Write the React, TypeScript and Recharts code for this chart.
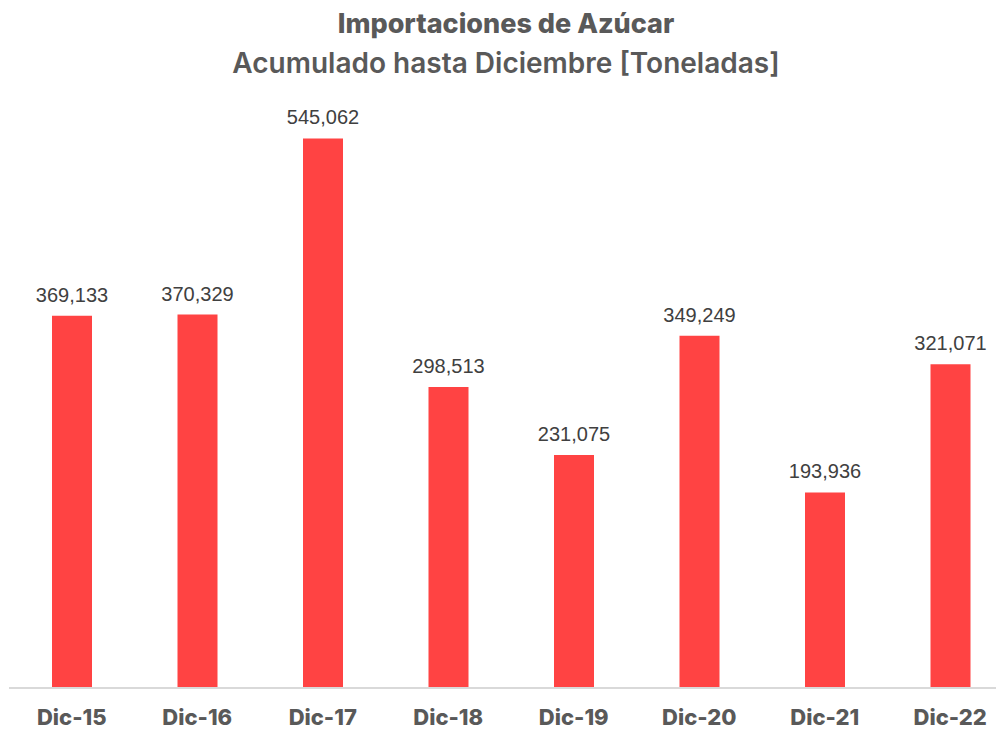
import { BarChart, Bar, XAxis, YAxis, LabelList } from 'recharts';

const categories = ['Dic-15', 'Dic-16', 'Dic-17', 'Dic-18', 'Dic-19', 'Dic-20', 'Dic-21', 'Dic-22'];
const toneladas = [369133, 370329, 545062, 298513, 231075, 349249, 193936, 321071];
const yDomain = [0, 600000];

const chartData = categories.map((name, i) => ({ name, value: toneladas[i] }));

const fmt = (v: number) => v.toLocaleString('en-US');

export default function App() {
  return (
    <div style={{ position: 'relative', width: 996, height: 723, overflow: 'hidden' }}>
      <div
        style={{
          position: 'absolute',
          top: 0,
          left: 0,
          width: 996,
          textAlign: 'center',
          color: '#595959',
          fontFamily: 'Inter, Roboto, sans-serif',
        }}
      >
        <div style={{ fontSize: 27, fontWeight: 800, lineHeight: '32px', paddingTop: 0 }}>
          Importaciones de Azúcar
        </div>
        <div style={{ fontSize: 28, fontWeight: 600, lineHeight: '32px', marginTop: 7 }}>
          Acumulado hasta Diciembre [Toneladas]
        </div>
      </div>
      <BarChart
        width={1005}
        height={723}
        data={chartData}
        margin={{ top: 75, right: 0, bottom: 0, left: 1 }}
        barCategoryGap={0}
      >
        <XAxis
          dataKey="name"
          height={43}
          tickLine={false}
          axisLine={{ stroke: '#d9d9d9', strokeWidth: 2 }}
          interval={0}
          tick={{ fill: '#595959', fontSize: 22, fontWeight: 800, fontFamily: 'Inter, Roboto, sans-serif', dy: 13 }}
        />
        <YAxis hide domain={yDomain} />
        <Bar dataKey="value" fill="#ff4343" barSize={40} isAnimationActive={false}>
          <LabelList
            dataKey="value"
            position="top"
            offset={14}
            formatter={(v: number) => fmt(v)}
            style={{ fill: '#404040', fontSize: 20, fontFamily: '"Liberation Sans", "Noto Sans", sans-serif' }}
          />
        </Bar>
      </BarChart>
    </div>
  );
}
